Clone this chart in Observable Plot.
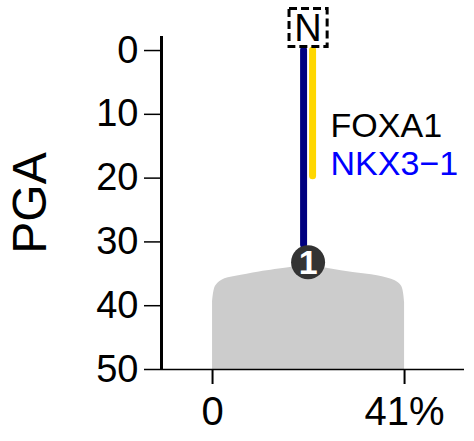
<!DOCTYPE html>
<html>
<head>
<meta charset="utf-8">
<script src="https://cdn.jsdelivr.net/npm/d3@7"></script>
<script src="https://cdn.jsdelivr.net/npm/@observablehq/plot@0.6"></script>
<style>
  html, body { margin: 0; padding: 0; background: #fff; }
  svg { display: block; }
</style>
</head>
<body>
<div id="chart"></div>
<script>
// ---- data ----
const densityX = [0, 0.6, 2, 5, 10, 16.6, 20.3, 25, 30, 35.2, 39, 40.4, 41];
const densityTop = [39.5, 37.0, 36.0, 35.4, 34.7, 34.0, 33.6, 34.2, 34.8, 35.3, 36.1, 37.0, 39.5];
const genes = ["NKX3−1", "FOXA1"];
const geneStart = [0, 0];
const geneEnd = [30.5, 19.7];
const geneColors = ["#000080", "#FFD700"];
const labelColors = ["#000000", "#0000FF"];
const labelTexts = ["FOXA1", "NKX3−1"];
const labelPGA = [11.9, 17.8];
const clusterX = 20.4;
const clusterPGA = 33.2;
const clusterLabel = "1";
const nodeLabel = "N";
const nodePGA = -3.6;
const xTicks = [0, 41];
const xTickLabels = ["0", "41%"];
const yTicks = [0, 10, 20, 30, 40, 50];

const density = densityX.map((x, i) => ({x, top: densityTop[i]}));
const geneRows = genes.map((g, i) => ({g, x: clusterX, y1: geneStart[i], y2: geneEnd[i], c: geneColors[i], side: i === 0 ? -1 : 1}));
const labels = labelTexts.map((t, i) => ({t, x: 25.2, y: labelPGA[i], c: labelColors[i]}));
const xMin = -10.9, xMax = 53.8, yMin = -2.2, yMax = 50;
const font = "Liberation Sans, Arial, Helvetica, sans-serif";

const plot = Plot.plot({
  width: 474,
  height: 441,
  marginLeft: 161,
  marginRight: 10,
  marginTop: 36,
  marginBottom: 72,
  style: {fontFamily: font, background: "white", overflow: "visible"},
  x: {type: "linear", domain: [xMin, xMax], axis: null},
  y: {type: "linear", domain: [yMin, yMax], reverse: true, axis: null},
  marks: [
    Plot.areaY(density, {x: "x", y1: yMax, y2: "top", curve: "catmull-rom", fill: "#cccccc"}),
    // axes
    Plot.ruleY([yMax], {stroke: "black", strokeWidth: 1.5}),
    Plot.ruleX([xMin], {y1: yMin, y2: yMax, stroke: "black", strokeWidth: 3}),
    Plot.axisY(yTicks, {anchor: "left", tickSize: 17, tickPadding: 6, fontSize: 38, stroke: "black", strokeWidth: 1.5, tickFormat: d => String(d), label: null}),
    Plot.axisX(xTicks, {anchor: "bottom", tickSize: 15, tickPadding: 12, fontSize: 40, strokeWidth: 2, tickFormat: (d, i) => xTickLabels[i], label: null}),
    Plot.text(["PGA"], {frameAnchor: "left", textAnchor: "middle", dx: -131, rotate: -90, fontSize: 48, text: d => d, fill: "black"}),
    // gene lines
    Plot.ruleX(geneRows, {x: "x", y1: "y1", y2: "y2", stroke: d => d.c, dx: -4.5, filter: d => d.side < 0, strokeWidth: 7, strokeLinecap: "round"}),
    Plot.ruleX(geneRows, {x: "x", y1: "y1", y2: "y2", stroke: d => d.c, dx: 4.5, filter: d => d.side > 0, strokeWidth: 7, strokeLinecap: "round"}),
    // cluster node
    Plot.dot([{x: clusterX, y: clusterPGA, t: clusterLabel}], {x: "x", y: "y", r: 17, fill: "#333333"}),
    Plot.text([{x: clusterX, y: clusterPGA, t: clusterLabel}], {x: "x", y: "y", text: "t", fill: "white", fontSize: 34, fontWeight: "bold", dy: 1}),
    // N box
    Plot.dot([{x: clusterX, y: nodePGA, t: nodeLabel}], {x: "x", y: "y", symbol: "square", r: 21.5, stroke: "black", strokeWidth: 3, strokeDasharray: "8,4", fill: "none"}),
    Plot.text([{x: clusterX, y: nodePGA, t: nodeLabel}], {x: "x", y: "y", text: "t", fill: "black", fontSize: 38, dy: 1}),
    // gene labels
    Plot.text(labels, {x: "x", y: "y", text: "t", fill: d => d.c, textAnchor: "start", fontSize: 34})
  ]
});
document.getElementById("chart").appendChild(plot);
</script>
</body>
</html>
